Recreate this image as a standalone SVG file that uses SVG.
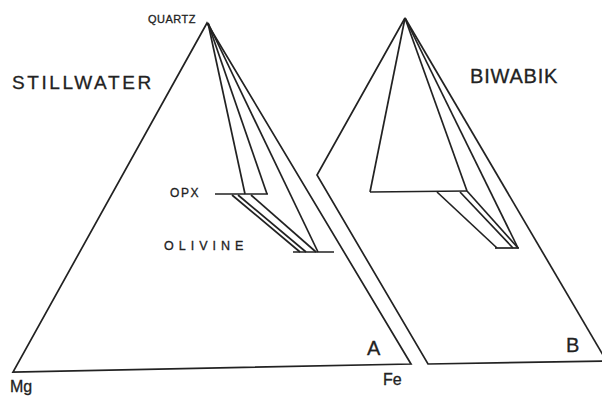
<svg xmlns="http://www.w3.org/2000/svg" width="602" height="398" viewBox="0 0 602 398">
<style>
.ln{fill:none;stroke:#222;stroke-width:1.7;stroke-linejoin:miter;stroke-linecap:butt}
.t{font-family:"Liberation Sans",Arial,sans-serif;fill:#222;stroke:#222;stroke-width:0.3}
</style>
<rect width="602" height="398" fill="#fff"/>
<g id="triangleA">
<polygon class="ln" points="207,23 13,372 411,364"/>
</g>
<g id="triangleB">
<polyline class="ln" points="405,18 317,175 428,364 610,361"/>
<line class="ln" x1="405" y1="18" x2="610" y2="367"/>
</g>
<g id="connectors">
<line class="ln" x1="208" y1="23" x2="245" y2="194"/>
<line class="ln" x1="208" y1="23" x2="267" y2="194"/>
<line class="ln" x1="208" y1="23" x2="318" y2="252"/>
<line class="ln" x1="215" y1="194" x2="268" y2="194"/>
<line class="ln" x1="293" y1="252" x2="334" y2="252"/>
<line class="ln" x1="232" y1="195" x2="300" y2="252"/>
<line class="ln" x1="238" y1="195" x2="306" y2="252"/>
<line class="ln" x1="251" y1="195" x2="316" y2="252"/>
<line class="ln" x1="405" y1="18" x2="370" y2="192"/>
<line class="ln" x1="370" y1="192" x2="467" y2="191"/>
<line class="ln" x1="405" y1="18" x2="467" y2="191"/>
<line class="ln" x1="405" y1="18" x2="518" y2="248"/>
<line class="ln" x1="495" y1="248" x2="519" y2="248"/>
<line class="ln" x1="437" y1="192" x2="497" y2="248"/>
<line class="ln" x1="460" y1="192" x2="513" y2="248"/>
<line class="ln" x1="467" y1="191" x2="518" y2="248"/>
</g>
<g id="labels">
<text class="t" x="148" y="23" font-size="11" letter-spacing="0.5">QUARTZ</text>
<text class="t" x="12" y="89" font-size="19" letter-spacing="2.6">STILLWATER</text>
<text class="t" x="470" y="83" font-size="20" letter-spacing="0.8">BIWABIK</text>
<text class="t" x="170" y="197" font-size="12" letter-spacing="1.6">OPX</text>
<text class="t" x="164" y="250" font-size="12.5" letter-spacing="5">OLIVINE</text>
<text class="t" x="367" y="355" font-size="20">A</text>
<text class="t" x="566" y="352" font-size="20">B</text>
<text class="t" x="10" y="392" font-size="16">Mg</text>
<text class="t" x="383" y="385" font-size="16">Fe</text>
</g>
</svg>
